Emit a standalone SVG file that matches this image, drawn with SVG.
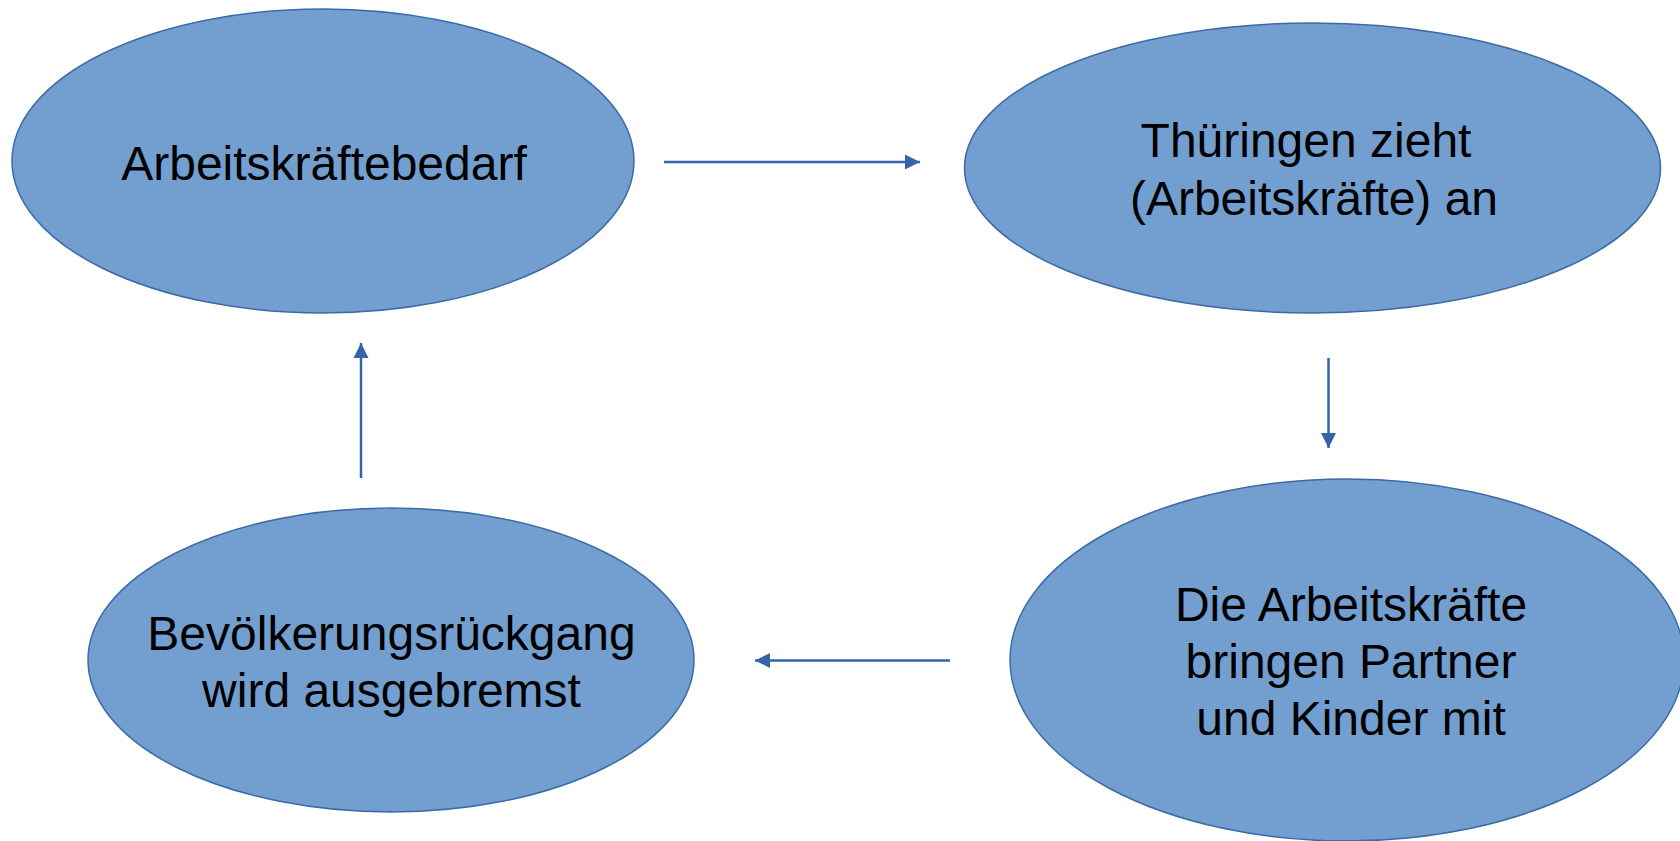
<svg xmlns="http://www.w3.org/2000/svg" width="1680" height="841" viewBox="0 0 1680 841">
<style>
.node{fill:#729fcf;stroke:#3b6aa6;stroke-width:1.5}
.lbl{font-family:"Liberation Sans",Arial,sans-serif;font-size:48px;fill:#000;text-anchor:middle}
.conn{stroke:#3465a8;stroke-width:2.5;fill:none}
</style>
<defs>
<marker id="ah" markerUnits="userSpaceOnUse" markerWidth="16" markerHeight="16" viewBox="0 0 16 16" refX="15" refY="8" orient="auto">
<path d="M0,0.5 L15,8 L0,15.5 Z" fill="#3465a8"/>
</marker>
</defs>
<rect width="1680" height="841" fill="#ffffff"/>
<g id="connectors">
<line class="conn" x1="664" y1="162" x2="920" y2="162" marker-end="url(#ah)"/>
<line class="conn" x1="1328.5" y1="358" x2="1328.5" y2="448" marker-end="url(#ah)"/>
<line class="conn" x1="950" y1="660.5" x2="755" y2="660.5" marker-end="url(#ah)"/>
<line class="conn" x1="361" y1="478" x2="361" y2="343" marker-end="url(#ah)"/>
</g>
<g id="node-arbeitskraeftebedarf">
<ellipse class="node" cx="323" cy="161" rx="311" ry="152"/>
<text class="lbl" x="324" y="180">Arbeitskräftebedarf</text>
</g>
<g id="node-thueringen">
<ellipse class="node" cx="1312.5" cy="168" rx="348" ry="145"/>
<text class="lbl" x="1306" y="157">Thüringen zieht</text>
<text class="lbl" x="1314" y="215">(Arbeitskräfte) an</text>
</g>
<g id="node-partner-kinder">
<ellipse class="node" cx="1347" cy="660" rx="337" ry="181"/>
<text class="lbl" x="1351" y="621">Die Arbeitskräfte</text>
<text class="lbl" x="1351" y="678">bringen Partner</text>
<text class="lbl" x="1351" y="735">und Kinder mit</text>
</g>
<g id="node-bevoelkerung">
<ellipse class="node" cx="391" cy="660" rx="303" ry="152"/>
<text class="lbl" x="391.5" y="650">Bevölkerungsrückgang</text>
<text class="lbl" x="391.5" y="707">wird ausgebremst</text>
</g>
</svg>
